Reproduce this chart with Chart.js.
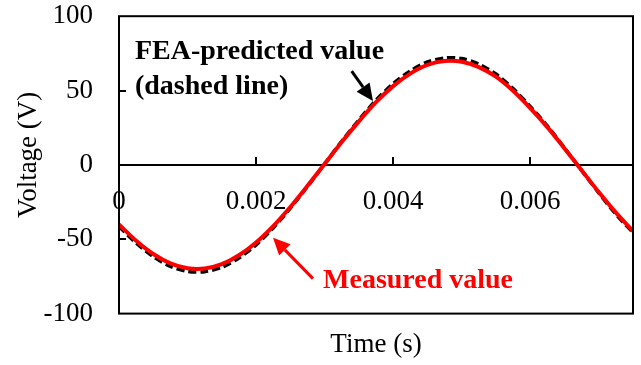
<!DOCTYPE html>
<html lang="en">
<head>
  <meta charset="UTF-8">
  <title>Voltage waveform</title>
  <script src="https://cdn.jsdelivr.net/npm/chart.js"></script>
  <style>
    body { margin: 0; background: #fff; }
    canvas { display: block; }
  </style>
</head>
<body>
  <canvas id="myChart" width="641" height="365"></canvas>

  <script>
    // time samples (s)
    const timeValues = [
      0, 0.00025, 0.0005, 0.00075, 0.001, 0.00125, 0.0015, 0.00175, 0.002, 0.00225,
      0.0025, 0.00275, 0.003, 0.00325, 0.0035, 0.00375, 0.004, 0.00425, 0.0045, 0.00475,
      0.005, 0.00525, 0.0055, 0.00575, 0.006, 0.00625, 0.0065, 0.00675, 0.007, 0.00725, 0.0075
    ];
    // measured voltage (V)
    const measuredValues = [
      -40, -51, -59.9, -66.2, -69.5, -69.7, -66.8, -60.8, -52.2, -41.2,
      -28.3, -14.1, 0.6, 15.4, 29.3, 42.2, 53, 61.4, 67.2, 69.8,
      69.4, 65.8, 59.3, 49.8, 38.2, 25.4, 11.1, -3.6, -18.3, -32.1, -44.5
    ];
    // FEA prediction (V)
    const feaValues = [
      -41.5, -52.5, -61.7, -68.2, -71.6, -71.8, -68.8, -62.6, -53.8, -42.4,
      -29.1, -14.5, 0.6, 15.9, 30.2, 43.5, 54.6, 63.2, 69.2, 71.9,
      71.5, 67.8, 61.1, 51.3, 39.3, 26.2, 11.4, -3.7, -18.8, -33.1, -45.5
    ];
    const xTicks = [0, 0.002, 0.004, 0.006];
    const yTicks = [-100, -50, 0, 50, 100];

    const serif = "'Liberation Serif', 'Times New Roman', serif";

    const toPoints = (vals) => vals.map((v, i) => ({ x: timeValues[i], y: v }));

    // frame, inner tick marks and the two callouts
    const decorations = {
      id: "decorations",
      afterDatasetsDraw(chart) {
        const { ctx, chartArea: a, scales: { x, y } } = chart;
        ctx.save();
        ctx.strokeStyle = "#000";
        ctx.lineWidth = 2;
        ctx.strokeRect(a.left, a.top, a.right - a.left, a.bottom - a.top);

        const y0 = y.getPixelForValue(0);
        ctx.beginPath();
        xTicks.slice(1).forEach((t) => {
          const px = Math.round(x.getPixelForValue(t));
          ctx.moveTo(px, y0);
          ctx.lineTo(px, y0 - 8);
        });
        [-50, 50].forEach((v) => {
          const py = Math.round(y.getPixelForValue(v));
          ctx.moveTo(a.left, py);
          ctx.lineTo(a.left + 7, py);
        });
        ctx.stroke();

        const arrow = (t0, v0, t1, v1, color) => {
          const x0 = x.getPixelForValue(t0), y0p = y.getPixelForValue(v0);
          const x1 = x.getPixelForValue(t1), y1 = y.getPixelForValue(v1);
          const ang = Math.atan2(y1 - y0p, x1 - x0);
          const head = 17, w = 8;
          const bx = x1 - head * Math.cos(ang), by = y1 - head * Math.sin(ang);
          ctx.strokeStyle = color;
          ctx.fillStyle = color;
          ctx.lineWidth = 3;
          ctx.beginPath();
          ctx.moveTo(x0, y0p);
          ctx.lineTo(bx, by);
          ctx.stroke();
          ctx.beginPath();
          ctx.moveTo(x1, y1);
          ctx.lineTo(bx + w * Math.sin(ang), by - w * Math.cos(ang));
          ctx.lineTo(bx - w * Math.sin(ang), by + w * Math.cos(ang));
          ctx.closePath();
          ctx.fill();
        };

        ctx.font = "bold 28px " + serif;
        ctx.textBaseline = "middle";
        ctx.textAlign = "left";
        ctx.fillStyle = "#000";
        ctx.fillText("FEA-predicted value", x.getPixelForValue(0.000233), y.getPixelForValue(76));
        ctx.fillText("(dashed line)", x.getPixelForValue(0.000233), y.getPixelForValue(52.5));
        arrow(0.003395, 63, 0.003706, 43, "#000");

        ctx.fillStyle = "#ff0000";
        ctx.fillText("Measured value", x.getPixelForValue(0.002977), y.getPixelForValue(-78));
        arrow(0.00283, -76.5, 0.002247, -49, "#ff0000");
        ctx.restore();
      }
    };

    new Chart(document.getElementById("myChart"), {
      type: "line",
      data: {
        datasets: [
          {
            label: "Measured value",
            data: toPoints(measuredValues),
            borderColor: "#ff0000",
            borderWidth: 4,
            pointRadius: 0,
            tension: 0.3,
            order: 0
          },
          {
            label: "FEA-predicted value",
            data: toPoints(feaValues),
            borderColor: "#000",
            borderWidth: 3.5,
            borderDash: [8, 4],
            pointRadius: 0,
            tension: 0.3,
            order: 1
          }
        ]
      },
      options: {
        responsive: false,
        animation: false,
        layout: { padding: { top: 15, right: 8, bottom: 4, left: 0 } },
        plugins: {
          legend: { display: false },
          tooltip: { enabled: false },
          title: {
            display: true,
            position: "bottom",
            fullSize: false,
            text: "Time (s)",
            color: "#000",
            font: { family: serif, size: 27, weight: "normal" },
            padding: { top: 15, bottom: 0 }
          }
        },
        scales: {
          x: {
            type: "linear",
            position: { y: 0 },
            min: 0,
            max: 0.0075,
            grid: { display: false },
            border: { display: true, color: "#000", width: 2 },
            afterBuildTicks: (scale) => { scale.ticks = xTicks.map((v) => ({ value: v })); },
            ticks: {
              padding: 13,
              color: "#000",
              font: { family: serif, size: 27 },
              maxRotation: 0,
              callback: (v) => (v === 0 ? "0" : v.toFixed(3))
            }
          },
          y: {
            min: -100,
            max: 100,
            // invisible tick marks keep the labels clear of the frame
            grid: { display: true, drawOnChartArea: false, drawTicks: true, tickLength: 26, tickColor: "rgba(0,0,0,0)" },
            border: { display: false },
            afterBuildTicks: (scale) => { scale.ticks = yTicks.map((v) => ({ value: v })); },
            afterFit: (scale) => { scale.width = 119; },
            ticks: {
              padding: 0,
              color: "#000",
              font: { family: serif, size: 27 }
            },
            title: {
              display: true,
              text: "   Voltage (V)",
              color: "#000",
              font: { family: serif, size: 27 },
              padding: { top: 13, bottom: 0 }
            }
          }
        }
      },
      plugins: [decorations]
    });
  </script>
</body>
</html>
